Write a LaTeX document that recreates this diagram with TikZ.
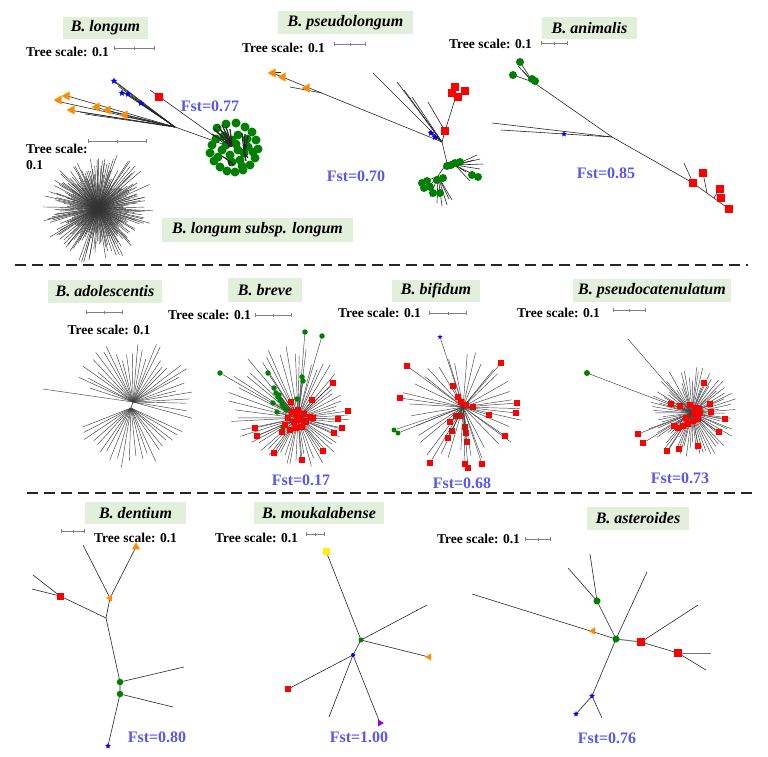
\documentclass[tikz,border=0pt]{standalone}
\usepackage{fontspec}
\setmainfont{Liberation Serif}
\usetikzlibrary{arrows.meta, shapes.geometric}
\definecolor{titlebg}{HTML}{E2EFDA}
\definecolor{fstblue}{HTML}{5858F0}
\definecolor{leafgreen}{HTML}{008000}
\definecolor{leafred}{HTML}{FF0000}
\definecolor{leaforange}{HTML}{FF8C00}
\definecolor{leafblue}{HTML}{0000FF}
\definecolor{leafpurple}{HTML}{A000E0}
\definecolor{leafyellow}{HTML}{FFF200}
\definecolor{scalegray}{HTML}{808080}

\begin{document}
\begin{tikzpicture}[x=1pt, y=-1pt,
  every node/.style={text=black},
  title/.style={fill=titlebg, inner sep=0pt, minimum height=22pt,
    font=\fontsize{16}{19}\selectfont\bfseries\itshape},
  scaletext/.style={font=\fontsize{13.5}{16}\selectfont\bfseries, inner sep=0pt, align=left},
  fstlabel/.style={font=\fontsize{16}{19}\selectfont\bfseries, text=fstblue, inner sep=0pt},
  scalebar/.style={scalegray, line width=0.8pt,
    {Bar[width=4pt, line width=0.8pt]}-{Bar[width=4pt, line width=0.8pt]}},
  midtick/.style={fill=scalegray, inner sep=0pt, minimum width=0.8pt, minimum height=3pt},
  branch/.style={black!85, line width=0.6pt},
  burst/.style={black!75, line width=0.45pt},
  sepline/.style={black!85, line width=1.8pt, dash pattern=on 11pt off 6pt},
  gdot/.style={circle, fill=leafgreen, inner sep=0pt, minimum size=#1},
  gdot/.default=6pt,
  rsq/.style={rectangle, fill=leafred, inner sep=0pt, minimum size=#1},
  rsq/.default=6pt,
  otri/.style={isosceles triangle, isosceles triangle apex angle=60, fill=leaforange,
    inner sep=0pt, minimum size=#1, shape border rotate=180},
  otri/.default=7pt,
  bstar/.style={star, star points=5, star point ratio=2.2, fill=leafblue,
    inner sep=0pt, minimum size=#1},
  bstar/.default=7pt
]
\useasboundingbox (0,0) rectangle (768,756);

% ---------------- B. longum ----------------
\node[title, minimum width=85pt] (t-longum) at (105.5,28) {B. longum};
\node[scaletext, anchor=west] (s-longum) at (26,52) {Tree scale: 0.1};
\coordinate (sb-longum-a) at (114,48);
\coordinate (sb-longum-b) at (155,48);
\draw[scalebar] (sb-longum-a) -- (sb-longum-b) node[midway, midtick] (sb-longum-m) {};

\coordinate (lg-hub) at (228,146);
\coordinate (lg-p) at (203,137);
\coordinate (lg-q) at (175,127);
\coordinate (lg-red) at (150,90);
\draw[branch] (lg-hub) -- (lg-p) -- (lg-q);
\draw[branch] (lg-hub) -- (lg-red);
\foreach \p [count=\k] in {(112,80),(116,82),(118,86),(121,91),(126,93),(138,101),(130,96)}
  \draw[branch] (lg-q) -- \p coordinate (lg-b\k);
\foreach \p [count=\k] in {(56,101),(64,95),(69,110),(94,107),(104,110),(85,114),(122,116),(80,112)}
  \draw[branch] (lg-q) -- \p coordinate (lg-o\k);
\node[rsq=8pt] (lg-rsq) at (159,97) {};
\foreach \p [count=\k] in {(114,81),(122,93),(128,94),(141,103)}
  \node[bstar] (lg-star\k) at \p {};
\foreach \p [count=\k] in {(67,96),(59,100),(72,110),(97,107),(108,110),(125,115)}
  \node[otri=8pt] (lg-tri\k) at \p {};

% green cluster
\foreach \p [count=\k] in {(217,128),(226,124),(236,123),(245,127),(252,132),(256,140),
    (258,149),(255,158),(250,165),(243,170),(235,172),(227,171),(220,167),(214,161),
    (210,153),(212,145),(216,139),(222,150),(240,160),(232,162),(248,147),(224,136),
    (247,139),(238,150),(230,155),(218,157),(253,152),(242,166),(232,140),(238,135),
    (226,145),(244,153),(236,144)}
  \node[gdot=9pt] (lg-g\k) at \p {};
\coordinate (lg-c1) at (232,146);
\coordinate (lg-c2) at (244,152);
\coordinate (lg-c3) at (228,160);
\draw[branch, line width=1.2pt] (lg-hub) -- (lg-c1);
\foreach \p [count=\k] in {(214,129),(218,126),(222,125),(226,127),(230,129),(212,134),(217,132),(221,130)}
  \draw[branch, line width=1.2pt] (lg-c1) -- \p coordinate (lg-k\k);
\foreach \p [count=\k] in {(242,133),(245,134),(248,136),(248,158),(246,161),(247,145)}
  \draw[branch, line width=1.2pt] (lg-c2) -- \p coordinate (lg-m\k);
\foreach \p [count=\k] in {(222,156),(225,158),(234,165),(230,166)}
  \draw[branch, line width=1.2pt] (lg-c3) -- \p coordinate (lg-n\k);
\node[fstlabel] (f-longum) at (210,106) {Fst=0.77};

% ---------------- B. longum subsp. longum ----------------
\coordinate (sb-subsp-a) at (88,141);
\coordinate (sb-subsp-b) at (147,141);
\draw[scalebar] (sb-subsp-a) -- (sb-subsp-b) node[midway, midtick] (sb-subsp-m) {};
\node[scaletext, anchor=north west] (s-subsp) at (26,144) {Tree scale:\\0.1};
\coordinate (ls-hub) at (98,208);
\pgfmathsetseed{11}
\foreach \i in {1,...,220}{
  \pgfmathsetmacro{\ang}{\i*1.636+rnd*2}
  \pgfmathsetmacro{\len}{24+rnd*33}
  \draw[burst, black!80] (ls-hub) -- ++(\ang:\len) coordinate (ls-\i);
}
\node[title, minimum width=191pt, minimum height=24pt] (t-subsp) at (257.5,230)
  {B. longum subsp. longum};

% ---------------- B. pseudolongum ----------------
\node[title, minimum width=135pt, minimum height=23pt] (t-pseudolongum) at (345.5,22.5)
  {B. pseudolongum};
\node[scaletext, anchor=west] (s-pseudolongum) at (242,48) {Tree scale: 0.1};
\coordinate (sb-pl-a) at (334,44);
\coordinate (sb-pl-b) at (366,44);
\draw[scalebar] (sb-pl-a) -- (sb-pl-b) node[midway, midtick] (sb-pl-m) {};

\coordinate (pl-root) at (442,142);
\coordinate (pl-orange) at (270,72);
\coordinate (pl-oj) at (322,93);
\coordinate (pl-ol) at (290,87);
\coordinate (pl-os) at (281,72);
\draw[branch] (pl-root) -- (pl-orange);
\draw[branch] (pl-oj) -- (pl-ol);
\draw[branch] (pl-orange) -- (pl-os);
\foreach \p [count=\k] in {(373,73),(397,82),(404,90),(412,97),(429,131),(432,134)}
  \draw[branch] (pl-root) -- \p coordinate (pl-b\k);
\coordinate (pl-rn) at (445,131);
\coordinate (pl-rt) at (456,96);
\coordinate (pl-rl) at (428,102);
\draw[branch] (pl-root) -- (pl-rn) -- (pl-rt);
\draw[branch] (pl-rn) -- (pl-rl);
\coordinate (pl-gh) at (447,163);
\coordinate (pl-ga) at (455,165);
\coordinate (pl-gb) at (438,176);
\draw[branch] (pl-root) -- (pl-gh) -- (pl-ga);
\draw[branch] (pl-gh) -- (pl-gb);
\foreach \p [count=\k] in {(477,155),(480,159),(483,164),(480,169),(476,176),(470,181),(466,172),(474,160)}
  \draw[branch] (pl-ga) -- \p coordinate (pl-ea\k);
\foreach \p [count=\k] in {(424,182),(430,197),(437,203),(442,206),(447,205),(452,200),(426,190),(449,199)}
  \draw[branch] (pl-gb) -- \p coordinate (pl-eb\k);
\foreach \p [count=\k] in {(273,73),(283,77),(307,88)}
  \node[otri=8pt] (pl-tri\k) at \p {};
\foreach \p [count=\k] in {(431,133),(435,137)}
  \node[bstar] (pl-star\k) at \p {};
\foreach \p [count=\k] in {(445,131),(455,87),(465,91),(458,97),(452,93)}
  \node[rsq=8pt] (pl-sq\k) at \p {};
\foreach \p [count=\k] in {(447,166),(455,163),(460,162),(427,181),(443,178),(433,193),
    (440,193),(472,175),(478,177),(430,187),(451,165),(422,183),(437,180),(424,188)}
  \node[gdot=8pt] (pl-g\k) at \p {};
\node[fstlabel] (f-pseudolongum) at (356,176) {Fst=0.70};

% ---------------- B. animalis ----------------
\node[title, minimum width=95pt] (t-animalis) at (589.5,28) {B. animalis};
\node[scaletext, anchor=west] (s-animalis) at (449,44) {Tree scale: 0.1};
\coordinate (sb-an-a) at (541,43);
\coordinate (sb-an-b) at (568,43);
\draw[scalebar] (sb-an-a) -- (sb-an-b) node[midway, midtick] (sb-an-m) {};

\coordinate (an-g) at (533,82);
\coordinate (an-m) at (612,137);
\coordinate (an-r) at (693,183);
\coordinate (an-end) at (729,209);
\draw[branch] (an-g) -- (an-m) -- (an-r) -- (an-end);
\foreach \p [count=\k] in {(520,62),(513,75),(518,66),(522,70),(532,79)}
  \draw[branch] (an-g) -- \p coordinate (an-gl\k);
\coordinate (an-b1) at (492,123);
\coordinate (an-b2) at (501,130);
\draw[branch] (an-m) -- (an-b1);
\draw[branch] (an-m) -- (an-b2);
\coordinate (an-rl) at (684,163);
\coordinate (an-j1) at (707,193);
\coordinate (an-j2) at (714,198);
\coordinate (an-s1) at (703,173);
\coordinate (an-s2) at (720,188);
\draw[branch] (an-r) -- (an-rl);
\draw[branch] (an-j1) -- (an-s1);
\draw[branch] (an-j2) -- (an-s2);
\foreach \p [count=\k] in {(520,62),(513,75),(532,79),(535,81)}
  \node[gdot=8pt] (an-g\k) at \p {};
\node[bstar=6pt] (an-star) at (564,134) {};
\foreach \p [count=\k] in {(693,183),(703,173),(720,189),(721,198),(729,209)}
  \node[rsq=8pt] (an-sq\k) at \p {};
\node[fstlabel] (f-animalis) at (606,173) {Fst=0.85};

% separator
\coordinate (sep1-a) at (15,265);
\coordinate (sep1-b) at (748,265);
\draw[sepline] (sep1-a) -- (sep1-b);

% ---------------- B. adolescentis ----------------
\node[title, minimum width=114pt, minimum height=23pt] (t-adolescentis) at (105,291.5)
  {B. adolescentis};
\coordinate (sb-ad-a) at (86,312);
\coordinate (sb-ad-b) at (123,312);
\draw[scalebar] (sb-ad-a) -- (sb-ad-b) node[midway, midtick] (sb-ad-m) {};
\node[scaletext] (s-adolescentis) at (109,330) {Tree scale: 0.1};
\coordinate (ad-up) at (133,402);
\coordinate (ad-lo) at (131,408);
\coordinate (ad-long) at (43,389);
\draw[branch] (ad-up) -- (ad-lo);
\draw[burst] (ad-up) -- (ad-long);
\pgfmathsetseed{21}
\foreach \i in {0,...,30}{
  \pgfmathsetmacro{\ang}{196+\i*5.9+rnd*3}
  \pgfmathsetmacro{\len}{42+rnd*22}
  \draw[burst] (ad-up) -- ++(\ang:\len) coordinate (ad-u\i);
}
\foreach \i in {0,...,20}{
  \pgfmathsetmacro{\ang}{22+\i*6.8+rnd*3}
  \pgfmathsetmacro{\len}{46+rnd*14}
  \draw[burst] (ad-lo) -- ++(\ang:\len) coordinate (ad-d\i);
}

% ---------------- B. breve ----------------
\node[title, minimum width=74pt, minimum height=24pt] (t-breve) at (265,290) {B. breve};
\node[scaletext, anchor=west] (s-breve) at (168,315) {Tree scale: 0.1};
\coordinate (sb-br-a) at (255,315);
\coordinate (sb-br-b) at (292,315);
\draw[scalebar] (sb-br-a) -- (sb-br-b) node[midway, midtick] (sb-br-m) {};
\coordinate (br-hub) at (298,418);
\pgfmathsetseed{5}
\foreach \i in {0,...,59}{
  \pgfmathsetmacro{\ang}{\i*6+rnd*4}
  \pgfmathsetmacro{\len}{36+rnd*16+28*max(0,cos(\ang-235))}
  \draw[burst] (br-hub) -- ++(\ang:\len) coordinate (br-l\i);
}
\foreach \p [count=\k] in {(305,332),(322,336),(302,377),(303,381),(268,373),(274,388),
    (273,403),(277,412),(297,399),(283,427),(220,373),(276,393),(278,397),(280,400),
    (282,404),(284,407),(286,410),(279,395)}{
  \node[gdot=5.5pt] (br-g\k) at \p {};
  \draw[burst] (br-hub) -- (br-g\k);
}
\foreach \p [count=\k] in {(333,383),(312,400),(348,411),(338,419),(342,428),(334,433),
    (323,451),(302,460),(274,453),(257,436),(255,428),(313,418),(291,402)}{
  \node[rsq=6.5pt] (br-r\k) at \p {};
  \draw[burst] (br-hub) -- (br-r\k);
}
\foreach \p [count=\k] in {(292,412),(298,410),(304,414),(300,420),(294,422),(306,422),
    (288,418),(302,427),(296,428),(310,417),(285,425),(290,430),(282,432),(297,416)}
  \node[rsq=6.5pt] (br-c\k) at \p {};
\node[fstlabel] (f-breve) at (301,480) {Fst=0.17};

% ---------------- B. bifidum ----------------
\node[title, minimum width=88pt] (t-bifidum) at (436,291) {B. bifidum};
\node[scaletext, anchor=west] (s-bifidum) at (338,313) {Tree scale: 0.1};
\coordinate (sb-bi-a) at (429,313);
\coordinate (sb-bi-b) at (467,313);
\draw[scalebar] (sb-bi-a) -- (sb-bi-b) node[midway, midtick] (sb-bi-m) {};
\coordinate (bi-hub) at (463,407);
\pgfmathsetseed{9}
\foreach \i in {0,...,31}{
  \pgfmathsetmacro{\ang}{\i*11.25+rnd*6}
  \pgfmathsetmacro{\len}{42+rnd*20}
  \draw[burst] (bi-hub) -- ++(\ang:\len) coordinate (bi-l\i);
}
\node[bstar=5pt] (bi-star) at (440,337) {};
\draw[burst] (bi-hub) -- (bi-star);
\foreach \p [count=\k] in {(394,430),(398,433)}{
  \node[gdot=5pt] (bi-g\k) at \p {};
  \draw[burst] (bi-hub) -- (bi-g\k);
}
\foreach \p [count=\k] in {(407,366),(400,398),(453,386),(458,397),(461,402),(473,407),
    (489,415),(501,363),(456,416),(460,416),(450,422),(452,431),(448,438),(465,427),
    (466,433),(467,442),(430,463),(465,464),(468,468),(482,464),(517,403),(516,413),
    (505,436),(466,405)}{
  \node[rsq=6pt] (bi-r\k) at \p {};
  \draw[burst] (bi-hub) -- (bi-r\k);
}
\node[fstlabel] (f-bifidum) at (462,483) {Fst=0.68};

% ---------------- B. pseudocatenulatum ----------------
\node[title, minimum width=158pt, minimum height=23pt] (t-pseudocat) at (652,290.5)
  {B. pseudocatenulatum};
\node[scaletext, anchor=west] (s-pseudocat) at (517,313) {Tree scale: 0.1};
\coordinate (sb-pc-a) at (613,310);
\coordinate (sb-pc-b) at (646,310);
\draw[scalebar] (sb-pc-a) -- (sb-pc-b) node[midway, midtick] (sb-pc-m) {};
\coordinate (pc-hub) at (692,413);
\coordinate (pc-long) at (628,339);
\draw[burst] (pc-hub) -- (pc-long);
\pgfmathsetseed{3}
\foreach \i in {0,...,74}{
  \pgfmathsetmacro{\ang}{\i*4.8+rnd*3}
  \pgfmathsetmacro{\len}{26+rnd*21}
  \draw[burst] (pc-hub) -- ++(\ang:\len) coordinate (pc-l\i);
}
\node[gdot=6pt] (pc-g) at (587,373) {};
\draw[burst] (pc-hub) -- (pc-g);
\foreach \p [count=\k] in {(704,383),(710,404),(711,412),(725,419),(719,432),(698,446),
    (679,449),(667,451),(643,443),(638,434),(671,404),(680,406),(674,426)}{
  \node[rsq=6.5pt] (pc-r\k) at \p {};
  \draw[burst] (pc-hub) -- (pc-r\k);
}
\foreach \p [count=\k] in {(690,405),(696,408),(700,413),(698,419),(693,421),(688,424),
    (683,426),(678,428),(694,413),(686,418),(699,409)}
  \node[rsq=6.5pt] (pc-c\k) at \p {};
\node[fstlabel] (f-pseudocat) at (680,478) {Fst=0.73};

% separator
\coordinate (sep2-a) at (27,493);
\coordinate (sep2-b) at (755,493);
\draw[sepline] (sep2-a) -- (sep2-b);

% ---------------- B. dentium ----------------
\node[title, minimum width=101pt] (t-dentium) at (135.5,513) {B. dentium};
\coordinate (sb-de-a) at (61,531);
\coordinate (sb-de-b) at (85,531);
\draw[scalebar] (sb-de-a) -- (sb-de-b) node[midway, midtick] (sb-de-m) {};
\node[scaletext, anchor=west] (s-dentium) at (94,538) {Tree scale: 0.1};
\coordinate (de-a) at (106,618);
\coordinate (de-b) at (110,598);
\coordinate (de-l1) at (83,545);
\coordinate (de-l2) at (136,547);
\coordinate (de-c) at (60,596);
\coordinate (de-l3) at (33,575);
\coordinate (de-l4) at (32,589);
\coordinate (de-d) at (120,682);
\coordinate (de-l5) at (184,667);
\coordinate (de-e) at (120,694);
\coordinate (de-l6) at (173,707);
\coordinate (de-f) at (108,746);
\draw[branch] (de-l1) -- (de-b) -- (de-l2);
\draw[branch] (de-b) -- (de-a) -- (de-c);
\draw[branch] (de-l3) -- (de-c) -- (de-l4);
\draw[branch] (de-a) -- (de-d) -- (de-e) -- (de-f);
\draw[branch] (de-d) -- (de-l5);
\draw[branch] (de-e) -- (de-l6);
\node[otri=6pt] (de-tri1) at (de-b) {};
\node[otri=7pt, shape border rotate=50] (de-tri2) at (de-l2) {};
\node[rsq=7pt] (de-sq) at (de-c) {};
\node[gdot=6.5pt] (de-g1) at (de-d) {};
\node[gdot=6.5pt] (de-g2) at (de-e) {};
\node[bstar=6pt] (de-star) at (de-f) {};
\node[fstlabel] (f-dentium) at (157,737) {Fst=0.80};

% ---------------- B. moukalabense ----------------
\node[title, minimum width=130pt] (t-moukalabense) at (319,513) {B. moukalabense};
\node[scaletext, anchor=west] (s-moukalabense) at (215,538) {Tree scale: 0.1};
\coordinate (sb-mo-a) at (306,534);
\coordinate (sb-mo-b) at (325,534);
\draw[scalebar] (sb-mo-a) -- (sb-mo-b) node[midway, midtick] (sb-mo-m) {};
\coordinate (mo-g) at (361,640);
\coordinate (mo-y) at (326,551);
\coordinate (mo-l1) at (427,605);
\coordinate (mo-o) at (429,657);
\coordinate (mo-b) at (353,655);
\coordinate (mo-r) at (288,689);
\coordinate (mo-l2) at (329,717);
\coordinate (mo-p) at (380,723);
\draw[branch] (mo-y) -- (mo-g) -- (mo-l1);
\draw[branch] (mo-g) -- (mo-o);
\draw[branch] (mo-g) -- (mo-b) -- (mo-r);
\draw[branch] (mo-b) -- (mo-l2);
\draw[branch] (mo-b) -- (mo-p);
\node[rectangle, fill=leafyellow, inner sep=0pt, minimum size=7pt] (mo-ysq) at (mo-y) {};
\node[gdot=5pt] (mo-gd) at (mo-g) {};
\node[circle, fill=leafblue, inner sep=0pt, minimum size=4pt] (mo-bd) at (mo-b) {};
\node[rsq=6pt] (mo-rsq) at (mo-r) {};
\node[otri=6pt] (mo-tri) at (mo-o) {};
\node[isosceles triangle, isosceles triangle apex angle=60, fill=leafpurple,
  inner sep=0pt, minimum size=6pt, shape border rotate=-20] (mo-ptri) at (mo-p) {};
\node[fstlabel] (f-moukalabense) at (359,737) {Fst=1.00};

% ---------------- B. asteroides ----------------
\node[title, minimum width=102pt, minimum height=23pt] (t-asteroides) at (638,518.5)
  {B. asteroides};
\node[scaletext, anchor=west] (s-asteroides) at (437,539) {Tree scale: 0.1};
\coordinate (sb-as-a) at (525,539);
\coordinate (sb-as-b) at (551,539);
\draw[scalebar] (sb-as-a) -- (sb-as-b) node[midway, midtick] (sb-as-m) {};
\coordinate (as-c) at (616,639);
\coordinate (as-u) at (597,601);
\coordinate (as-u1) at (590,554);
\coordinate (as-u2) at (568,568);
\coordinate (as-w) at (472,594);
\coordinate (as-o) at (593,631);
\coordinate (as-n) at (647,572);
\coordinate (as-r1) at (641,642);
\coordinate (as-r1l) at (698,605);
\coordinate (as-r2) at (678,653);
\coordinate (as-r2a) at (711,653);
\coordinate (as-r2b) at (706,670);
\coordinate (as-s1) at (592,696);
\coordinate (as-s2) at (576,714);
\coordinate (as-s3) at (602,718);
\draw[branch] (as-u1) -- (as-u) -- (as-c);
\draw[branch] (as-u2) -- (as-u);
\draw[branch] (as-c) -- (as-w);
\draw[branch] (as-c) -- (as-n);
\draw[branch, black!55, line width=1pt] (as-c) -- (as-r1);
\draw[branch] (as-r1) -- (as-r1l);
\draw[branch] (as-r1) -- (as-r2) -- (as-r2b);
\draw[branch, black!55, line width=1pt] (as-r2) -- (as-r2a);
\draw[branch] (as-c) -- (as-s1) -- (as-s2);
\draw[branch] (as-s1) -- (as-s3);
\node[gdot=7pt] (as-g1) at (as-c) {};
\node[gdot=7pt] (as-g2) at (as-u) {};
\node[otri=6.5pt] (as-tri) at (as-o) {};
\node[rsq=8pt] (as-sq1) at (as-r1) {};
\node[rsq=8pt] (as-sq2) at (as-r2) {};
\node[bstar=6pt] (as-star1) at (as-s1) {};
\node[bstar=6pt] (as-star2) at (as-s2) {};
\node[fstlabel] (f-asteroides) at (607,738) {Fst=0.76};

\end{tikzpicture}
\end{document}
